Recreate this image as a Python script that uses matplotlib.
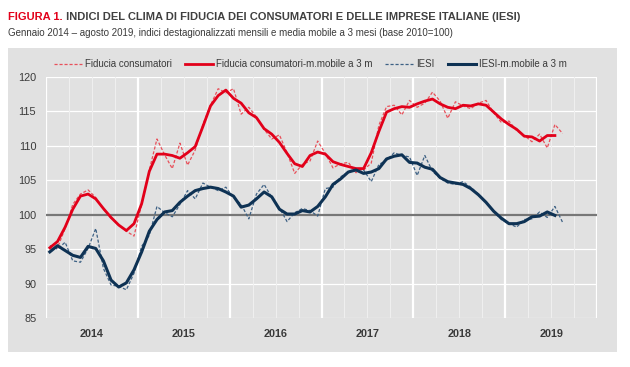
import matplotlib.pyplot as plt
from matplotlib.lines import Line2D
from matplotlib.patches import Rectangle
import numpy as np

# dati mensili gen 2014 - ago 2019
anni = ['2014', '2015', '2016', '2017', '2018', '2019']

fiducia_cons = [95.0, 95.2, 98.0, 101.5, 103.0, 103.6, 102.5, 100.8, 99.5, 98.5, 97.6, 96.9,
                101.5, 106.5, 111.0, 108.7, 106.7, 110.4, 107.2, 109.4, 113.1, 115.9, 118.3, 117.7,
                118.3, 114.6, 115.6, 114.2, 112.4, 111.0, 111.6, 109.0, 106.0, 107.3, 107.8, 110.7,
                108.9, 106.8, 107.4, 107.6, 106.1, 106.5, 107.5, 113.0, 115.7, 115.9, 114.5, 116.6,
                115.6, 116.2, 117.8, 116.5, 114.0, 116.4, 115.8, 115.4, 116.2, 116.6, 114.8, 113.4,
                113.6, 112.2, 111.5, 110.6, 111.7, 109.7, 113.1, 111.8]

fiducia_cons_mm = [95.2, 96.1, 98.2, 100.8, 102.7, 103.0, 102.3, 100.9, 99.6, 98.5, 97.7, 98.7,
                   101.6, 106.3, 108.8, 108.8, 108.6, 108.2, 109.0, 109.9, 112.8, 115.8, 117.3, 118.1,
                   116.9, 116.2, 114.8, 114.1, 112.5, 111.7, 110.5, 108.9, 107.4, 107.0, 108.6, 109.1,
                   108.8, 107.7, 107.3, 107.0, 106.7, 106.7, 109.0, 112.1, 114.9, 115.4, 115.7, 115.6,
                   116.1, 116.5, 116.8, 116.1, 115.6, 115.4, 115.9, 115.8, 116.1, 115.9, 114.9, 113.9,
                   113.1, 112.4, 111.4, 111.3, 110.7, 111.5, 111.5]

iesi = [95.5, 95.0, 96.0, 93.3, 93.1, 95.1, 98.0, 92.2, 89.8, 89.6, 89.1, 91.5,
        95.4, 97.0, 101.2, 100.3, 99.7, 101.5, 103.5, 102.3, 104.6, 104.0, 103.5, 104.0,
        102.5, 101.5, 99.4, 103.0, 104.4, 102.5, 101.0, 99.0, 100.3, 100.9, 100.6, 99.8,
        103.8, 104.0, 105.5, 106.2, 106.8, 106.5, 104.8, 107.3, 107.9, 109.0, 108.6, 108.4,
        105.7, 108.6, 106.3, 105.3, 104.6, 104.4, 104.8, 104.0, 103.0, 101.8, 100.5, 99.3,
        98.7, 98.2, 99.3, 99.4, 100.4, 99.6, 101.2, 98.9]

iesi_mm = [94.6, 95.5, 94.8, 94.1, 93.8, 95.4, 95.1, 93.3, 90.5, 89.5, 90.1, 92.0,
           94.6, 97.6, 99.3, 100.4, 100.6, 101.8, 102.7, 103.5, 103.8, 104.0, 103.8, 103.3,
           102.7, 101.1, 101.4, 102.3, 103.3, 102.6, 100.8, 100.1, 100.1, 100.6, 100.4, 101.2,
           102.6, 104.4, 105.2, 106.2, 106.5, 106.0, 106.2, 106.7, 108.1, 108.5, 108.7, 107.6,
           107.5, 106.9, 106.6, 105.4, 104.8, 104.6, 104.4, 103.8, 102.9, 101.8, 100.5, 99.5,
           98.7, 98.7, 99.0, 99.7, 99.8, 100.4, 99.9]

ROSSO = '#e2001a'
ROSSO_CH = '#e8505a'
BLU = '#0e3254'
BLU_CH = '#3d6184'
GRIGIO = '#e1e1e1'
TESTO = '#3a3a3a'

plt.rcParams['font.family'] = ['Liberation Sans', 'DejaVu Sans']

fig = plt.figure(figsize=(6.3, 3.67), dpi=100)
fig.patch.set_facecolor('white')
# pannello grigio di sfondo
fig.patches.append(Rectangle((8 / 630, 1 - 352 / 367), 609 / 630, 304 / 367,
                             transform=fig.transFigure, facecolor=GRIGIO,
                             edgecolor='none', zorder=-5))

ax = fig.add_axes([46 / 630, 1 - 318 / 367, 551 / 630, 241 / 367])
ax.set_facecolor(GRIGIO)

x_raw = np.arange(len(fiducia_cons))
x_mm = np.arange(len(fiducia_cons_mm))

# griglia
for y in range(85, 121, 5):
    ax.axhline(y, color='white', lw=0.9, zorder=1)
for k in range(0, 73, 3):
    if k % 12 == 0:
        ax.axvline(k - 0.5, color='white', lw=1.6, zorder=1)
    else:
        ax.axvline(k - 0.5, color='#efefef', lw=0.8, zorder=1)
ax.axhline(100, color='#777777', lw=1.6, zorder=2)

ax.plot(x_raw, fiducia_cons, color=ROSSO_CH, lw=0.9, dashes=(2.5, 1.5), zorder=3)
ax.plot(x_mm, fiducia_cons_mm, color=ROSSO, lw=2.0, zorder=4)
ax.plot(x_raw, iesi, color=BLU_CH, lw=0.9, dashes=(2.5, 1.5), zorder=3)
ax.plot(x_mm, iesi_mm, color=BLU, lw=2.2, zorder=4)

ax.set_xlim(-0.5, 71.5)
ax.set_ylim(85, 120)
ax.set_yticks(range(85, 121, 5))
ax.set_xticks([5.5 + 12 * i for i in range(len(anni))])
ax.set_xticklabels(anni, fontweight='bold', fontsize=7.8, color='#222222')
ax.tick_params(axis='both', length=0, colors=TESTO, labelsize=7.8)
ax.tick_params(axis='x', pad=8)
ax.tick_params(axis='y', pad=7)
for s in ax.spines.values():
    s.set_visible(False)

# legenda disegnata a mano
handles = [
    dict(color=ROSSO_CH, lw=0.9, dashes=(2.5, 1.5)),
    dict(color=ROSSO, lw=2.0),
    dict(color=BLU_CH, lw=0.9, dashes=(2.5, 1.5)),
    dict(color=BLU, lw=2.2),
]
labels = ['Fiducia consumatori', 'Fiducia consumatori-m.mobile a 3 m', 'IESI', 'IESI-m.mobile a 3 m']
renderer = fig.canvas.get_renderer()
x0 = 54
yl = 1 - 64 / 367
for h, lab in zip(handles, labels):
    ln = Line2D([x0 / 630, (x0 + 28) / 630], [yl, yl], transform=fig.transFigure, **h)
    fig.add_artist(ln)
    t = fig.text((x0 + 31) / 630, yl, lab, fontsize=7, color=TESTO, va='center', ha='left')
    w = t.get_window_extent(renderer).width
    x0 = x0 + 31 + w + 13

# titolo
t1 = fig.text(8 / 630, 1 - 17 / 367, 'FIGURA 1.', color=ROSSO, fontsize=8,
              fontweight='bold', va='center', ha='left')
fig.canvas.draw()
ax.annotate(' INDICI DEL CLIMA DI FIDUCIA DEI CONSUMATORI E DELLE IMPRESE ITALIANE (IESI)',
            xy=(1, 0.5), xycoords=t1, va='center', ha='left', color='#404040',
            fontsize=8, fontweight='bold', annotation_clip=False)
fig.text(8 / 630, 1 - 33 / 367,
         'Gennaio 2014 \u2013 agosto 2019, indici destagionalizzati mensili e media mobile a 3 mesi (base 2010=100)',
         color=TESTO, fontsize=7, va='center', ha='left')

plt.savefig('out.png', dpi=100)
